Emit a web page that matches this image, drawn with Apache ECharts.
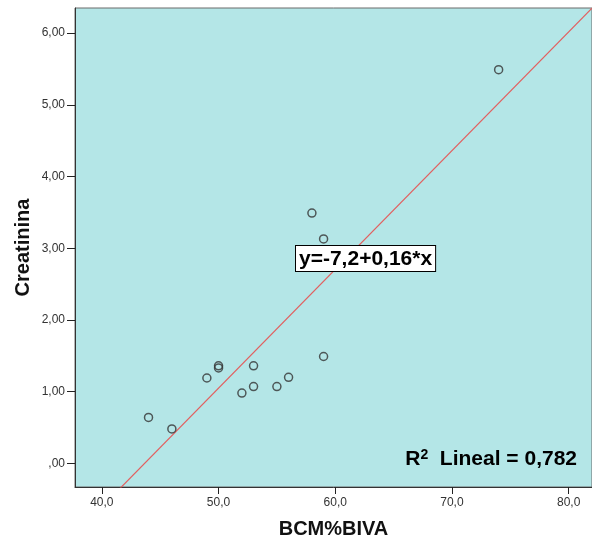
<!DOCTYPE html>
<html><head><meta charset="utf-8">
<script src="https://cdn.jsdelivr.net/npm/echarts@6/dist/echarts.min.js"></script>
<style>html,body{margin:0;padding:0;background:#fff}#c{width:592px;height:546px}</style>
</head><body><div id="c"></div>
<script>
var bcm = [44, 46, 49, 50, 50, 52, 53, 53, 55, 56, 59, 58, 59, 74];
var creat = [0.64, 0.48, 1.19, 1.36, 1.33, 0.98, 1.36, 1.07, 1.07, 1.20, 1.49, 3.49, 3.13, 5.49];
var xTicks = [40, 50, 60, 70, 80];
var yTicks = [0, 1, 2, 3, 4, 5, 6];
var xMin = 37.7, xMax = 82.0, yMin = -0.33, yMax = 6.35;

var n = bcm.length, mx = 0, my = 0;
for (var i = 0; i < n; i++) { mx += bcm[i]; my += creat[i]; }
mx /= n; my /= n;
var sxy = 0, sxx = 0;
for (var i = 0; i < n; i++) { sxy += (bcm[i]-mx)*(creat[i]-my); sxx += (bcm[i]-mx)*(bcm[i]-mx); }
var slope = sxy / sxx, intercept = my - slope * mx;
var pts = bcm.map(function(x, i){ return [x, creat[i]]; });
var fit = [[xMin, intercept + slope*xMin], [xMax, intercept + slope*xMax]];

var chart = echarts.init(document.getElementById('c'));
chart.setOption({
  animation: false,
  grid: { left: 75, top: 8, right: -1, bottom: 59, show: true, backgroundColor: '#b4e6e7', borderColor: '#6a6a6a', borderWidth: 1 },
  xAxis: {
    type: 'value', min: xMin, max: xMax,
    name: 'BCM%BIVA', nameLocation: 'middle', nameGap: 32, nameMoveOverlap: false,
    nameTextStyle: { fontFamily: 'Liberation Sans', fontWeight: 'bold', fontSize: 20, color: '#111' },
    axisLine: { show: true, onZero: false, lineStyle: { color: '#333' } },
    axisTick: { show: true, length: 7, customValues: xTicks, lineStyle: { color: '#222' } },
    axisLabel: { customValues: xTicks, margin: 10, fontFamily: 'Liberation Sans', fontSize: 12, color: '#333',
      formatter: function(v){ return v.toFixed(1).replace('.', ','); } },
    splitLine: { show: false }
  },
  yAxis: {
    type: 'value', min: yMin, max: yMax,
    name: 'Creatinina', nameLocation: 'middle', nameGap: 42, nameMoveOverlap: false,
    nameTextStyle: { fontFamily: 'Liberation Sans', fontWeight: 'bold', fontSize: 20, color: '#111' },
    axisLine: { show: true, onZero: false, lineStyle: { color: '#333' } },
    axisTick: { show: true, length: 8, customValues: yTicks, lineStyle: { color: '#222' } },
    axisLabel: { customValues: yTicks, margin: 10, fontFamily: 'Liberation Sans', fontSize: 12, color: '#333',
      formatter: function(v){ return v === 0 ? ',00' : v.toFixed(2).replace('.', ','); } },
    splitLine: { show: false }
  },
  series: [
    { type: 'line', data: fit, showSymbol: false, symbol: 'none', clip: true,
      lineStyle: { color: '#e25f5f', width: 1.2 }, silent: true, z: 2 },
    { type: 'scatter', data: pts, symbol: 'circle', symbolSize: 8,
      itemStyle: { color: 'rgba(0,0,0,0)', borderColor: '#333', borderWidth: 1.5 }, z: 3 }
  ],
  graphic: [
    { type: 'text', left: 295, top: 245, z: 10,
      style: { text: 'y=-7,2+0,16*x', fontFamily: 'Liberation Sans', fontWeight: 'bold', fontSize: 21, fill: '#000',
        backgroundColor: '#fff', borderColor: '#000', borderWidth: 1, padding: [3, 3, 1, 3] } },
    { type: 'text', right: 15, top: 448, z: 10,
      style: { text: 'R{s|2}  Lineal = 0,782', fontFamily: 'Liberation Sans', fontWeight: 'bold', fontSize: 21, fill: '#000',
        rich: { s: { fontSize: 14, fontWeight: 'bold', fontFamily: 'Liberation Sans', fill: '#000', verticalAlign: 'top', padding: [0,0,9,0] } } } }
  ]
});
</script></body></html>
